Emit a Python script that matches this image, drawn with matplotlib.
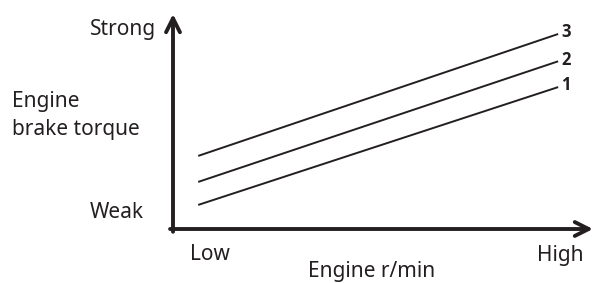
import matplotlib.pyplot as plt
import numpy as np

# engine speed (arbitrary units, 0-100) and engine brake torque for each gear curve
rpm = [6, 91.7]
curve_1 = [11.2, 66.0]
curve_2 = [21.9, 78.0]
curve_3 = [34.0, 90.7]
curve_names = ['1', '2', '3']

W, H = 594, 283
fig = plt.figure(figsize=(W / 100, H / 100), dpi=100)
plt.rcParams['font.family'] = ['Noto Sans', 'DejaVu Sans']
ink = '#231f20'

# axes placed so the origin sits at pixel (173, 229)
ax = fig.add_axes([173 / W, (H - 229) / H, 420 / W, 215 / H])
ax.set_xlim(0, 100)
ax.set_ylim(0, 100)
ax.axis('off')

for ys, name in zip([curve_1, curve_2, curve_3], curve_names):
    ax.plot(rpm, ys, color=ink, lw=1.4, solid_capstyle='butt')
    ax.text(rpm[1] + 0.8, ys[1] + 0.8, name, fontsize=12, fontweight='bold',
            family=['Open Sans', 'DejaVu Sans'], color=ink, ha='left', va='center')

# axis arrows
arrow = dict(arrowstyle='->,head_length=1.0,head_width=0.5', color=ink,
             lw=2.8, shrinkA=0, shrinkB=0)
ax.annotate('', xy=(0, 100), xytext=(0, -1.3), arrowprops=arrow, annotation_clip=False)
ax.annotate('', xy=(100, 0), xytext=(-0.7, 0), arrowprops=arrow, annotation_clip=False)


def px(x, y):
    return x / W, 1 - y / H


fs = 15
kw = dict(fontsize=fs, color=ink, fontweight='medium')
fig.text(*px(156, 30), 'Strong', ha='right', va='center', **kw)
fig.text(*px(144, 213), 'Weak', ha='right', va='center', **kw)
fig.text(*px(12, 102), 'Engine', ha='left', va='center', **kw)
fig.text(*px(12, 129), 'brake torque', ha='left', va='center', **kw)
fig.text(*px(190, 255), 'Low', ha='left', va='center', **kw)
fig.text(*px(584, 255), 'High', ha='right', va='center', **kw)
fig.text(*px(372, 272), 'Engine r/min', ha='center', va='center', **kw)

fig.savefig('out.png', dpi=100)
